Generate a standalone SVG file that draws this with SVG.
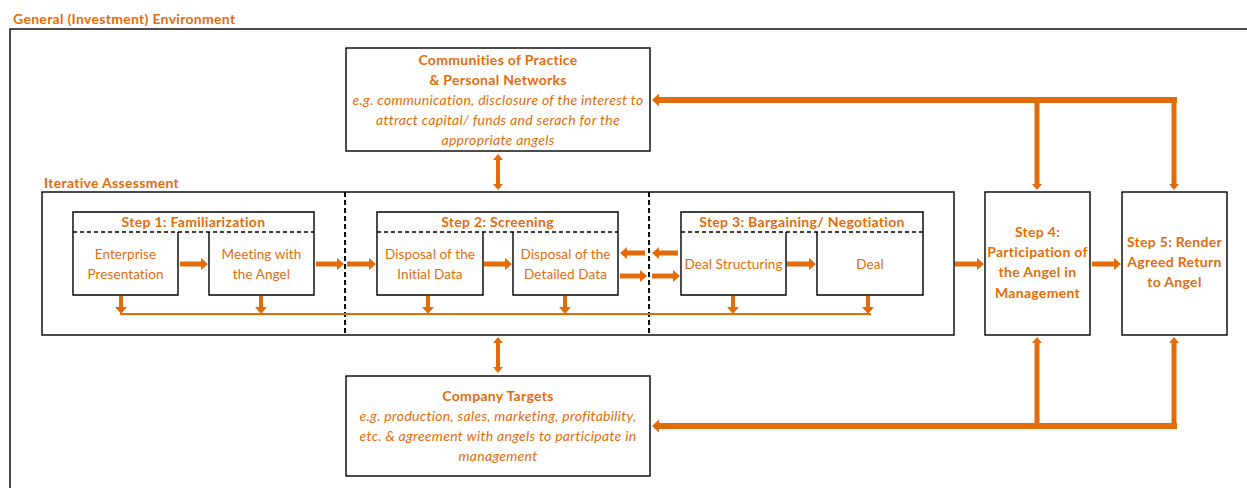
<svg xmlns="http://www.w3.org/2000/svg" width="1247" height="488" viewBox="0 0 1247 488">
  <defs>
    <style>
      .frame { fill: none; stroke: #000; stroke-width: 1.4; }
      .dash { fill: none; stroke: #000; stroke-width: 1.6; stroke-dasharray: 4 3; }
      .vdash { fill: none; stroke: #000; stroke-width: 2; stroke-dasharray: 5 3; }
      .t { font-family: Lato, "Liberation Sans", sans-serif; font-size: 13.5px; letter-spacing: 0.1px; fill: #E36C0A; }
      .b { font-weight: bold; font-size: 14px; letter-spacing: 0.3px; }
      .i { font-style: italic; font-size: 14px; letter-spacing: 0.3px; }
      .c { text-anchor: middle; }
      .arr { fill: none; stroke: #E36C0A; stroke-width: 5; marker-end: url(#ah); }
      .arrv { fill: none; stroke: #E36C0A; stroke-width: 4; marker-end: url(#ah); }
      .dbl { fill: none; stroke: #E36C0A; stroke-width: 4; marker-start: url(#ahs); marker-end: url(#ahs); }
      .loop { fill: none; stroke: #E36C0A; stroke-width: 6; }
      .loopv { fill: none; stroke: #E36C0A; stroke-width: 5; marker-end: url(#ahs); }
      .fb { fill: none; stroke: #E36C0A; stroke-width: 2; }
    </style>
    <marker id="ah" viewBox="0 0 7 12" refX="0" refY="6" markerWidth="7" markerHeight="12" orient="auto" markerUnits="userSpaceOnUse">
      <path d="M0,0 L7,6 L0,12 z" fill="#E36C0A"/>
    </marker>
    <marker id="ahs" viewBox="0 0 6 10" refX="0" refY="5" markerWidth="6" markerHeight="10" orient="auto-start-reverse" markerUnits="userSpaceOnUse">
      <path d="M0,0 L6,5 L0,10 z" fill="#E36C0A"/>
    </marker>
    <marker id="ahl" viewBox="0 0 7 13" refX="0" refY="6.5" markerWidth="7" markerHeight="13" orient="auto" markerUnits="userSpaceOnUse">
      <path d="M0,0 L7,6.5 L0,13 z" fill="#E36C0A"/>
    </marker>
  </defs>

  <rect width="1247" height="488" fill="#fff"/>

  <!-- environment frame -->
  <g id="environment">
    <text class="t b" x="13" y="24">General (Investment) Environment</text>
    <rect class="frame" x="10" y="29" width="1260" height="480"/>
  </g>

  <!-- communities box -->
  <g id="communities">
    <rect class="frame" x="346" y="48" width="304" height="103" fill="#fff"/>
    <text class="t b c" x="498" y="65">Communities of Practice</text>
    <text class="t b c" x="498" y="85">&amp; Personal Networks</text>
    <text class="t i c" x="498" y="105">e.g. communication, disclosure of the interest to</text>
    <text class="t i c" x="498" y="125">attract capital/ funds and serach for the</text>
    <text class="t i c" x="498" y="145">appropriate angels</text>
  </g>

  <!-- iterative assessment container -->
  <g id="iterative">
    <text class="t b" x="44" y="188">Iterative Assessment</text>
    <rect class="frame" x="42" y="192" width="912" height="143"/>
    <line class="vdash" x1="345" y1="192" x2="345" y2="335"/>
    <line class="vdash" x1="649" y1="192" x2="649" y2="335"/>
  </g>

  <!-- step 1 -->
  <g id="step1">
    <path class="frame" d="M73,232 V212 H314 V232"/>
    <line class="dash" x1="73" y1="232" x2="314" y2="232"/>
    <text class="t b c" x="193.5" y="227">Step 1: Familiarization</text>
    <path class="frame" d="M73,232 V295 H178 V232"/>
    <text class="t c" x="125.5" y="259">Enterprise</text>
    <text class="t c" x="125.5" y="279">Presentation</text>
    <path class="frame" d="M209,232 V295 H314 V232"/>
    <text class="t c" x="261.5" y="259">Meeting with</text>
    <text class="t c" x="261.5" y="279">the Angel</text>
  </g>

  <!-- step 2 -->
  <g id="step2">
    <path class="frame" d="M377,232 V212 H618 V232"/>
    <line class="dash" x1="377" y1="232" x2="618" y2="232"/>
    <text class="t b c" x="497.5" y="227">Step 2: Screening</text>
    <path class="frame" d="M377,232 V295 H483 V232"/>
    <text class="t c" x="430" y="259">Disposal of the</text>
    <text class="t c" x="430" y="279">Initial Data</text>
    <path class="frame" d="M513,232 V295 H618 V232"/>
    <text class="t c" x="565.5" y="259">Disposal of the</text>
    <text class="t c" x="565.5" y="279">Detailed Data</text>
  </g>

  <!-- step 3 -->
  <g id="step3">
    <path class="frame" d="M681,232 V212 H923 V232"/>
    <line class="dash" x1="681" y1="232" x2="923" y2="232"/>
    <text class="t b c" x="802" y="227">Step 3: Bargaining/ Negotiation</text>
    <path class="frame" d="M681,232 V295 H786 V232"/>
    <text class="t c" x="733.5" y="269">Deal Structuring</text>
    <path class="frame" d="M817,232 V295 H923 V232"/>
    <text class="t c" x="870" y="269">Deal</text>
  </g>

  <!-- step 4 -->
  <g id="step4">
    <rect class="frame" x="985" y="192" width="105" height="143"/>
    <text class="t b c" x="1037.5" y="237">Step 4:</text>
    <text class="t b c" x="1037.5" y="257">Participation of</text>
    <text class="t b c" x="1037.5" y="277">the Angel in</text>
    <text class="t b c" x="1037.5" y="298">Management</text>
  </g>

  <!-- step 5 -->
  <g id="step5">
    <rect class="frame" x="1122" y="192" width="105" height="143"/>
    <text class="t b c" x="1174.5" y="247">Step 5: Render</text>
    <text class="t b c" x="1174.5" y="267">Agreed Return</text>
    <text class="t b c" x="1174.5" y="287">to Angel</text>
  </g>

  <!-- company targets box -->
  <g id="targets">
    <rect class="frame" x="346" y="376" width="304" height="100" fill="#fff"/>
    <text class="t b c" x="498" y="401">Company Targets</text>
    <text class="t i c" x="498" y="421">e.g. production, sales, marketing, profitability,</text>
    <text class="t i c" x="498" y="441">etc. &amp; agreement with angels to participate in</text>
    <text class="t i c" x="498" y="461">management</text>
  </g>

  <!-- connectors -->
  <g id="connectors">
    <!-- forward flow -->
    <line class="arr" x1="180" y1="264" x2="201" y2="264"/>
    <line class="arr" x1="316" y1="264" x2="337" y2="264"/>
    <line class="arr" x1="347" y1="264" x2="369" y2="264"/>
    <line class="arr" x1="484" y1="264" x2="505" y2="264"/>
    <line class="arr" x1="645" y1="253" x2="627" y2="253"/>
    <line class="arr" x1="678" y1="253" x2="659" y2="253"/>
    <line class="arr" x1="620" y1="276" x2="640" y2="276"/>
    <line class="arr" x1="652" y1="276" x2="673" y2="276"/>
    <line class="arr" x1="787" y1="264" x2="809" y2="264"/>
    <line class="arr" x1="955" y1="264" x2="977" y2="264"/>
    <line class="arr" x1="1092" y1="264" x2="1114" y2="264"/>

    <!-- feedback to the shared line -->
    <line class="fb" x1="120" y1="314" x2="871" y2="314"/>
    <line class="arrv" x1="121" y1="296" x2="121" y2="307"/>
    <line class="arrv" x1="261" y1="296" x2="261" y2="307"/>
    <line class="arrv" x1="428" y1="296" x2="428" y2="307"/>
    <line class="arrv" x1="565" y1="296" x2="565" y2="307"/>
    <line class="arrv" x1="733" y1="296" x2="733" y2="307"/>
    <line class="arrv" x1="868" y1="296" x2="868" y2="307"/>

    <!-- two-way links to the context boxes -->
    <line class="dbl" x1="498" y1="160" x2="498" y2="184"/>
    <line class="dbl" x1="498" y1="343" x2="498" y2="367"/>

    <!-- upper loop -->
    <path class="loop" d="M1177,100 H659" marker-end="url(#ahl)"/>
    <line class="loopv" x1="1037" y1="100" x2="1037" y2="184"/>
    <line class="loopv" x1="1174" y1="97" x2="1174" y2="184"/>

    <!-- lower loop -->
    <path class="loop" d="M1177,426 H659" marker-end="url(#ahl)"/>
    <line class="loopv" x1="1037" y1="426" x2="1037" y2="343"/>
    <line class="loopv" x1="1174" y1="429" x2="1174" y2="343"/>
  </g>
</svg>
